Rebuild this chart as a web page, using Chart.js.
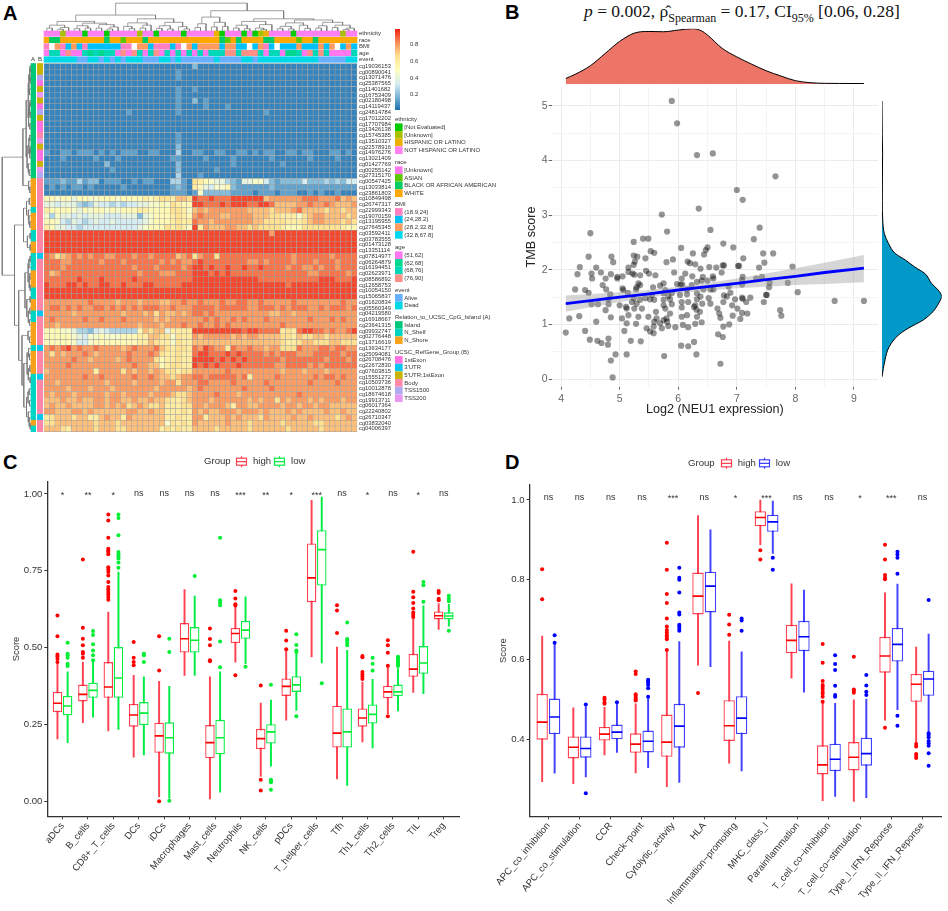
<!DOCTYPE html>
<html>
<head>
<meta charset="utf-8">
<style>
  html, body { margin:0; padding:0; background:#fff; }
  body { position:relative; width:948px; height:911px; overflow:hidden; font-family:'Liberation Sans', Arial, sans-serif; }
  canvas { position:absolute; }
  .tag { position:absolute; font-weight:700; font-size:20px; line-height:20px; color:#000; }
  #titleB { position:absolute; left:584px; top:1px; white-space:nowrap; font-family:'Liberation Serif', serif; font-size:17.5px; line-height:20px; color:#111; }
  #titleB sub { font-size:12px; line-height:0; }
</style>
<script src="https://cdn.jsdelivr.net/npm/chart.js@4/dist/chart.umd.min.js"></script>
</head>
<body>
<div class="tag" style="left:3px;top:3px;">A</div>
<div class="tag" style="left:505px;top:2px;">B</div>
<div class="tag" style="left:3px;top:452px;">C</div>
<div class="tag" style="left:505px;top:452px;">D</div>
<div id="titleB"><i>p</i> = 0.002, ρ̂<sub>Spearman</sub> = 0.17, CI<sub>95%</sub> [0.06, 0.28]</div>
<script>
// ---- panel A data ----
const rowNames = ['cg19036153','cg00890041','cg13071476','cg25387565','cg11401682','cg16753409','cg02180498','cg14119437','cg24814784','cg17012202','cg17707984','cg13426138','cg15745385','cg13510327','cg22578916','cg14976276','cg13021409','cg01427769','cg00255142','cg27315170','cg00547425','cg13033814','cg23861803','cg10849498','cg26747317','cg22999343','cg19070159','cg13195955','cg27645345','cg03592411','cg03783555','cg01473128','cg13351114','cg07814977','cg06264879','cg16194451','cg02623971','cg08586892','cg12658753','cg10054150','cg15065837','cg01620834','cg05560349','cg04219580','cg16918667','cg23641315','cg09932747','cg02776448','cg13716619','cg13634177','cg25094081','cg26708476','cg22672830','cg07603815','cg15551272','cg10503736','cg10012878','cg18674618','cg19913711','cg06017364','cg22240802','cg26710347','cg03832040','cg04006397'];
// one string per row, one hex digit per column (digit / 15 = beta value)
const heatRows = [
'111111111 111111111 111111111 3111111111 1111111111 1111111111',
'111111111 111111111 111111211 1111111111 1111111111 1111111111',
'111111111 111111111 111111211 1111111111 1111111111 1111111111',
'111111111 111111111 111111111 1111111111 1111111111 1111111111',
'111111111 111111111 111111211 2111111111 1111111111 1111111111',
'111111111 111111111 111111211 1111111111 1111111111 1111111111',
'111111111 111111111 111111211 3121111111 1111111111 1111111111',
'111111111 111111111 111111211 1121112111 1111111111 1111111111',
'111111111 111111211 111111211 1111111111 1112111111 1111111111',
'111111111 111111111 111111111 1111111111 1111111111 1111111111',
'111111111 111111111 111111111 1111111111 1111111111 1111111111',
'111111111 111111111 111111111 1111111111 1111111111 1111111111',
'111111111 111111111 111111211 1111111111 1111111111 1111111111',
'111111111 111111111 111111211 1111111111 1111111111 1111111111',
'111111111 111111111 111111311 1111111111 1111111111 1111111111',
'211221222 121212221 122111411 2211221122 1212211221 2211122121',
'111211111 211121111 111112211 1121111211 1111211111 1211112111',
'111111111 113111111 111111311 1111111211 1111112111 1111111111',
'111111111 111211111 111111311 1111211111 1111111111 1111111111',
'111111111 111111111 111111411 1211111111 1111111111 1111111111',
'222322423 312221121 221114421 a987664326 6775323333 5333434355',
'121212212 111112111 111112321 9865778322 2222322222 2222222222',
'111111111 111111111 111112221 2733333222 2122212221 1212112111',
'887886887 788878888 989aa9bba eddedddeee eeebcccccc dddcccdbcb',
'665666434 655454556 67787a988 eedddedeee ddeedbbbbc cdccdcbbbc',
'988887687 887878889 98888aa97 bcbccccccc bbbbabbbcd bbbbabbabb',
'747665656 665556663 678889a98 cdcccbbccc cbbbaa9997 abccbbbbab',
'887546545 655655555 678889a99 dccbcccccc cbbaaaa999 abccbbbaba',
'986655455 555555556 7888a9a97 e9cbbbccbb abaaaa9888 aaaaaaa988',
'eeeeeeeee eeeeeeeee eeeeeeeee eeeeeeeeee eeeeceeeee eeeeeeeeee',
'eeeeeeeee eeeeeeeee eeeeeeeee eeeeeeeeee eeeeeeeeee eeeeeeeeee',
'eeeeeeeee eeeeeeeee eeeeeeeee eeeeeeeeee eeeeeeeeee eeeeeeeeee',
'eeeeeeeee eeeeeeeee eeeeeeeee eeeeeeeeee eeeeeeeeee eeeeeeeeee',
'dcabcdcdc ddccdddcd dcddddbcd acddaddddd ddddddddcd dddddcdddd',
'dddccdddd dcdddcddd dddcdcdcc dedddddddd ccdcddddcd ddcdddcddd',
'dddcddddd dddddddcd ddcddddcd eededdedde ddeddddcdd ccdcddcddd',
'dbcdddddd ddddddddc dddcccddd eeedededdd dddddddddd dccdddddcd',
'ddddddedd deddddded ddddddddd eeeeeeeeee eedddddddd dddeeeddde',
'edddeeded deeddeddd eedddddee eeeeeeeeee eeeeeeedee eeeeeeeeee',
'eeeeeeeee eeeeeeeee eeeeeeeee eeeeeeeeee eeeeeeeeee eeeeeeeeee',
'eeeeeeeee eeeeeeeee eeeeeeeee eeeeeeeeee eeeeeeeeee eeeeeeeeee',
'ccccccccd ccccbcccb cccbbccdc cdcccdccdd ccdcccccdc cccccccdcc',
'cddcdcdcc ddcdcdcdc dddccdccc ddddcddddd ccdddcdcdd dccdcdddcd',
'cccccbccc cccccbccc bcacbbcbc ddcdcccccc ccccbbccbc cccccccccc',
'cdcccccdc cdcccdccc ccbcbcccc ccdcdccdcd cccdcccccc cdcccdcdcc',
'ccbcccccc ccccccccb cccbcccdc cdccdcdccc ccccccdccc cccccccccc',
'888776443 565444448 babb69999 eeeeeeeeed eedddd9a9d eeddcdccde',
'888887657 787778889 9bbaa7a99 cbcccccbcb ccbbbbaa9b aabbabbbbb',
'888887557 888888889 9ba997a99 bbbbbbbbbb bbbbbba99a bbaaabbaaa',
'cdcdecdcc dccccbcdc ccdba9aa9 dcedcc9dcc dccbccaaad cccddcddcc',
'cacbcccdc bcccccdcc cdca99a99 deedddeded dddcdcdddc ccdddddcdd',
'cccccdccb ccccbcdcc cca899a99 eeeededede ddddddcddd ddddcdddcd',
'ccccdcccc cccccccdc cbb89aa99 edededdded dddddccddd dcdcdddddd',
'bcccccccc 9ccccacbc cbcbaa9aa ccccccdccc ccccccbccc bcccbccccc',
'cccccccdc cdcccccdc cdcbbabcc ddcdddddcd 9ccccdcccc ccdcddcdcc',
'ccbcccccc ccbccccbc cccbccacc cddccccdcc cccdcccccc cdccccdccc',
'ccccbcccb cccbccccc ccbcccccb cdcccccccd ccccdccccc cccccccccc',
'cbcccbccc ccbccbccc cbcccbaab ccccdcccbc cccccccccd cccccccccc',
'bbbcbbcbb ccbccbbcb bcbba99ab cccbcccccc bcbccacbcc cbcbcccbcc',
'bcbbcbbbb ccbcbcabc baab999aa ccbcccb9cc bbccccbccb ccbccbbbbb',
'ccbbbccbc bbbbbbccb bcbb999a9 cbcbbcccbc ccbcbbbcbc bbbbcbbcbb',
'9abbbabb9 9bcbb9cbb bbbb99a99 cc9bbbcbcb bbacbbbbcb bcbbbbabcb',
'aabbbbbbb abbbabbbb bbbb7a9a9 cbbbbbcbbb abbbbbabbb bbaabbbbbb',
'bbba9bbbb abbbaabbb bbb9a9a99 bbbbabbbbb abbbbbbabb bbbabbbbbb'
];
const ethnicityTrack = 'pppkpppnpp pnpppppkpp nppppnpppp phnpppnpnk hppppnpppp ppppkpp';
const raceTrack      = 'wbbwwwwwww wbwwawwwbw wwwwwwwwww wwbawbwwww bbwwwwawwb wwwwwww';
const bmiTrack       = 'awcabcbabb bbbbaawccb aaabawcbcc ccbccbbwbc abwbbbcbbb cbcwbcb';
const ageTrack       = 'accadaacbc bccadadcac dacacacaca cccddcdddc accabbcadc dcaaaac';
const eventTrack     = 'ddddddaadd adadadddaa addadaaaaa adaaaaddad dddddddddd aaaaadd';
const relationTrack  = 'gggggggggggggggggggg ooooo c ooo cc oo ccc ooo cc oo cc oooo c oooo cccccccc o c';
const refGeneTrack   = 'llsfl tlfsl ffbtl fflts bbbbbbbbbbbbb u bbbbbbbbb u bbbbb u bbbb u bbbbbb u bb';
const ethnicityColors = { n:'#00cc00', k:'#a8c000', h:'#eeb000', p:'#ff80f0' };
const raceColors = { u:'#ff78f0', a:'#5cc800', b:'#00cc66', w:'#ffa800' };
const bmiColors = { a:'#ff80c0', b:'#00c0f8', c:'#ff9a60', d:'#00d8f0', w:'#ffffff' };
const ageColors = { a:'#ff78f0', b:'#00d890', c:'#00d8b8', d:'#ff9088' };
const eventColors = { a:'#66b0ff', d:'#00d8e8' };
const relationColors = { g:'#00c878', c:'#00d4c4', o:'#f8a21c' };
const refGeneColors = { f:'#ff70e0', u:'#00c8f0', l:'#c8b400', b:'#ff88a8', s:'#b0a8f0', t:'#e898f0' };
const trackNames = ['ethnicity','race','BMI','age','event'];
const legendTitles = ['ethnicity','race','BMI','age','event','Relation_to_UCSC_CpG_Island (A)','UCSC_RefGene_Group (B)'];
const legendLabels = [
  ['[Not Evaluated]','[Unknown]','HISPANIC OR LATINO','NOT HISPANIC OR LATINO'],
  ['[Unknown]','ASIAN','BLACK OR AFRICAN AMERICAN','WHITE'],
  ['(18.9,24]','(24,28.2]','(28.2,32.8]','(32.8,67.8]'],
  ['(51,62]','(62,68]','(68,76]','(76,90]'],
  ['Alive','Dead'],
  ['Island','N_Shelf','N_Shore'],
  ['1stExon',"3'UTR","5'UTR;1stExon",'Body','TSS1500','TSS200']
];
const legendColors = [
  ['#00cc00','#a8c000','#eeb000','#ff80f0'],
  ['#ff78f0','#5cc800','#00cc66','#ffa800'],
  ['#ff80c0','#00c0f8','#ff9a60','#00d8f0'],
  ['#ff78f0','#00d890','#00d8b8','#ff9088'],
  ['#66b0ff','#00d8e8'],
  ['#00c878','#00d4c4','#f8a21c'],
  ['#ff70e0','#00c8f0','#c8b400','#ff88a8','#b0a8f0','#e898f0']
];
const colorbarTicks = [0.2, 0.4, 0.6, 0.8];
// dendrograms: node = [height, left, right], 0 = leaf
const topTree = [.96,
  [.55,
    [.33, [.2,[.1,0,0],[.12,[.06,0,0],0]], [.27,[.18,[.08,0,0],[.1,0,0]],[.22,[.1,0,0],[.14,[.07,0,0],0]]]],
    [.42, [.28,[.16,0,[.08,0,0]],[.2,[.1,0,0],0]], [.3,[.18,[.09,0,0],[.07,0,0]],[.15,0,[.07,0,0]]]]],
  [.7,
    [.48,[.25,[.12,0,0],0],[.3,[.14,0,0],[.16,0,0]]],
    [.42,
      [.33,[.2,[.1,0,0],[.08,0,0]],[.22,[.1,0,[.05,0,0]],0]],
      [.38,[.28,[.16,[.08,0,0],[.07,0,0]],[.2,0,[.09,0,0]]],[.3,[.18,[.1,0,0],0],[.2,[.12,0,0],[.1,[.05,0,0],0]]]]]]];
const leftTree = [.96,
  [.27,
    [.16,[.1,[.07,[.04,[.03,0,0],[.03,0,0]],[.05,0,0]],[.08,[.05,[.03,0,0],[.03,0,0]],[.04,0,0]]],[.13,[.07,[.04,0,0],[.04,[.03,0,0],0]],[.09,0,[.06,0,0]]]],
    [.08,0,[.04,0,0]]],
  [.55,
    [.25,[.15,[.06,0,0],[.1,0,[.07,0,[.04,0,0]]]],[.12,[.03,0,0],[.03,0,0]]],
    [.41,
      [.2,[.1,[.07,[.03,0,0],0],[.06,[.04,0,0],[.03,0,0]]],[.14,[.03,0,0],[.09,[.04,0,0],[.05,0,0]]]],
      [.3,[.1,0,[.05,0,0]],[.24,[.13,[.08,0,[.05,0,0]],[.09,[.04,0,0],[.03,0,0]]],[.15,[.1,[.06,0,0],[.05,0,0]],[.09,0,[.06,0,[.03,0,0]]]]]]]]];

// ---- panel B data ----
const neu1 = [5.89,5.98,6.32,6.59,7.66,7.00,7.10,6.35,5.72,4.50,5.81,6.55,7.39,7.29,5.24,5.40,5.49,6.77,6.94,6.50,6.05,6.47,5.53,5.59,6.25,6.44,7.45,7.62,4.47,4.86,5.24,5.30,5.44,5.91,5.80,7.11,7.47,4.89,5.26,6.16,6.20,6.29,4.32,4.60,5.15,5.24,6.76,6.78,7.02,7.04,7.95,7.38,6.38,6.53,6.65,
  4.28,4.52,4.68,4.85,4.96,5.05,5.15,5.22,5.25,5.35,5.45,5.50,5.61,5.93,6.12,6.24,6.42,6.59,6.74,4.53,4.76,4.96,4.71,5.32,5.35,5.29,5.75,5.69,6.06,6.04,6.07,6.60,6.40,6.32,6.50,6.23,5.98,7.10,7.09,7.33,7.43,7.56,7.87,7.55,7.09,4.24,4.41,4.47,4.77,5.05,5.06,5.57,5.14,5.28,5.78,6.15,6.43,6.55,6.60,6.86,8.04,6.89,
  4.84,5.75,5.83,5.89,5.55,6.03,6.15,6.32,6.38,6.78,6.83,7.50,7.51,7.09,7.23,6.97,6.52,6.32,5.24,5.21,5.35,5.44,5.52,5.59,5.75,5.86,4.81,4.52,4.63,4.81,5.00,5.11,5.29,5.75,5.89,6.06,6.17,6.29,6.41,6.55,6.77,6.92,7.16,7.10,7.46,8.67,9.17,
  4.76,5.12,5.25,5.38,5.62,5.78,6.06,6.27,6.31,6.37,6.67,7.01,7.74,7.09,7.18,4.31,4.14,4.85,5.04,5.15,5.32,5.49,5.63,5.86,5.80,6.06,6.15,6.32,6.70,6.72,6.93,7.06,7.76,4.60,5.12,5.28,5.59,5.75,5.69,5.81,6.40,6.29,6.08,6.87,6.77,
  4.08,4.41,5.08,5.46,5.58,5.72,5.83,5.95,6.17,5.52,5.58,6.68,6.76,4.49,4.62,4.69,4.80,4.81,5.19,5.36,6.27,6.05,6.17,4.93,5.12,4.85,5.76,6.31,6.72,4.88];
const tmb = [5.09,4.68,4.10,4.13,3.71,3.46,3.28,3.12,3.01,2.67,2.70,2.73,2.77,2.56,2.51,2.57,2.57,2.48,2.41,2.41,2.40,2.36,2.34,2.31,2.30,2.28,2.30,2.30,2.24,2.24,2.26,2.24,2.21,2.19,2.14,2.21,2.13,2.14,2.15,2.15,2.12,2.10,2.05,2.04,2.04,2.09,2.08,2.08,2.07,2.07,2.06,2.04,2.02,2.05,2.04,
  1.92,1.93,1.95,1.92,1.87,1.88,1.96,1.93,1.91,1.90,1.98,1.93,1.90,1.95,1.93,1.88,1.87,1.88,1.95,1.84,1.84,1.84,1.72,1.75,1.72,1.68,1.75,1.71,1.84,1.73,1.73,1.84,1.80,1.78,1.80,1.72,1.74,1.87,1.81,1.84,1.87,1.76,1.76,1.68,1.73,1.64,1.63,1.58,1.64,1.66,1.63,1.68,1.58,1.64,1.63,1.64,1.64,1.64,1.64,1.69,1.59,1.58,
  1.55,1.57,1.52,1.57,1.54,1.54,1.55,1.57,1.51,1.53,1.51,1.54,1.54,1.49,1.49,1.46,1.48,1.46,1.48,1.41,1.45,1.48,1.46,1.45,1.45,1.46,1.46,1.37,1.37,1.37,1.35,1.32,1.38,1.35,1.37,1.41,1.41,1.35,1.38,1.38,1.41,1.35,1.41,1.47,1.41,1.43,1.43,
  1.26,1.29,1.29,1.29,1.23,1.29,1.31,1.32,1.27,1.23,1.29,1.29,1.26,1.21,1.20,1.15,1.11,1.13,1.11,1.17,1.14,1.14,1.11,1.20,1.11,1.14,1.17,1.14,1.20,1.12,1.16,1.10,1.16,1.05,1.02,1.01,1.05,1.08,1.02,1.05,1.04,1.01,0.99,1.00,0.96,
  0.85,0.88,0.88,0.93,0.96,0.93,0.97,0.95,0.95,0.87,0.84,0.82,0.77,0.72,0.70,0.66,0.63,0.74,0.70,0.69,0.68,0.61,0.60,0.45,0.45,0.34,0.42,0.45,0.28,0.03];
const fitX = [4.08,5,5.5,6,6.5,7,7.5,8,8.5,9.17];
const fitY = [1.38,1.50,1.56,1.63,1.69,1.75,1.82,1.88,1.95,2.03];
const fitUpper = [1.53,1.59,1.63,1.69,1.76,1.84,1.93,2.03,2.13,2.27];
const fitLower = [1.23,1.41,1.49,1.57,1.62,1.66,1.69,1.72,1.74,1.77];
const topDensX = [4.08,4.25,4.5,4.75,5,5.25,5.5,5.75,6,6.25,6.4,6.5,6.75,7,7.25,7.5,7.75,8,8.25,8.5,8.75,9.17];
const topDensY = [.10,.18,.33,.55,.77,.92,.95,.945,.975,1,.96,.885,.645,.49,.36,.24,.145,.06,.024,.012,.01,.008];
const sideDensY = [.04,.35,.59,.80,.93,1.08,1.23,1.45,1.51,1.63,1.75,1.93,2.05,2.18,2.30,2.48,2.66,2.91,3.27,3.88,4.13,4.49,5.09];
const sideDensW = [0,.05,.12,.27,.44,.69,.85,.98,1,.94,.83,.72,.55,.39,.22,.11,.04,.012,.005,.008,.01,.004,0];

// ---- panel C data ----
const immuneCells = ['aDCs','B_cells','CD8+_T_cells','DCs','iDCs','Macrophages','Mast_cells','Neutrophils','NK_cells','pDCs','T_helper_cells','Tfh','Th1_cells','Th2_cells','TIL','Treg'];
const immuneSig = ['*','**','*','ns','ns','ns','ns','***','**','*','***','ns','*','ns','*','ns'];
const cHighQ1  = [.290,.325,.337,.243,.158,.484,.140,.515,.170,.343,.648,.175,.243,.335,.405,.592];
const cHighMed = [.319,.348,.372,.281,.213,.529,.191,.546,.204,.374,.727,.222,.271,.356,.430,.604];
const cHighQ3  = [.356,.380,.453,.317,.256,.580,.248,.564,.236,.400,.839,.311,.302,.376,.480,.618];
const cHighLo  = [.203,.256,.229,.144,.014,.410,.008,.453,.081,.264,.470,.073,.193,.285,.354,.559];
const cHighHi  = [.448,.453,.616,.410,.390,.689,.405,.640,.320,.495,.979,.502,.388,.437,.594,.643];
const cHighOut = [[.605,.537,.478,.472,.464,.453],[.787,.565,.529,.508,.486,.48,.467],[.933,.914,.858,.822,.816,.811,.804,.762,.754,.746,.735,.714,.697,.689,.681,.674,.665,.656],[.518,.467,.453,.443],[0,.537,.426],[],[.562,.528,.508,.459,.456],[.684,.66,.641,.637,.41],[.07,.035,.377],[.555,.523,.495],[],[.638,.621,.548],[.473,.469,.421,.413,.405,.398],[.277,.524,.508,.483,.441],[.812,.682,.664,.645,.627,.614,.606,.6],[.684,.678,.659,.654]];
const cLowQ1  = [.280,.337,.337,.248,.155,.484,.153,.529,.188,.356,.702,.175,.253,.342,.415,.592];
const cLowMed = [.310,.361,.401,.287,.207,.524,.207,.557,.226,.379,.819,.226,.283,.356,.450,.603];
const cLowQ3  = [.343,.386,.502,.323,.257,.567,.265,.587,.251,.407,.882,.302,.315,.380,.505,.615];
const cLowLo  = [.191,.274,.234,.151,.010,.410,.030,.448,.114,.296,.450,.052,.174,.294,.350,.570];
const cLowHi  = [.421,.453,.746,.405,.374,.668,.421,.665,.329,.480,.990,.491,.397,.432,.636,.641];
const cLowOut = [[.516,.48,.475,.467,.448,.44],[.554,.541,.511,.491,.475,.459],[.933,.922,.866,.811,.804,.797,.79,.777,.76],[.48,.475,.453],[.002,.529,.486],[.733],[.858,.654,.646,.638,.52,.436],[.438],[.07,.066,.062,.038,.379],[.544,.509,.491,.486,.277],[.384],[.582,.528,.523,.516,.508],[.467,.448,.426],[.47,.465,.46,.455,.45,.445,.44],[.714,.703,.649],[.669,.659,.651,.555]];

// ---- panel D data ----
const pathways = ['APC_co_inhibition','APC_co_stimulation','CCR','Check−point','Cytolytic_activity','HLA','Inflammation−promoting','MHC_class_I','Parainflammation','T_cell_co−inhibition','T_cell_co−stimulation','Type_I_IFN_Reponse','Type_II_IFN_Reponse'];
const pathwaySig = ['ns','ns','ns','ns','***','ns','*','***','ns','ns','*','***','ns'];
const dHighQ1  = [.399,.352,.397,.366,.356,.713,.396,.934,.616,.312,.322,.567,.494];
const dHighMed = [.443,.380,.413,.388,.393,.759,.434,.956,.648,.336,.355,.609,.538];
const dHighQ3  = [.514,.407,.431,.415,.462,.818,.498,.972,.687,.385,.393,.657,.564];
const dHighLo  = [.294,.289,.361,.316,.281,.586,.340,.888,.553,.246,.244,.448,.390];
const dHighHi  = [.659,.479,.480,.489,.620,.961,.646,1.0,.790,.490,.499,.767,.631];
const dHighOut = [[.826,.751],[],[.504,.5,.492,.489],[.513,.509,.504,.5,.497,.57,.564],[.893,.825,.764,.742,.703,.683,.674,.668,.661,.655,.651,.624],[.516],[.712,.688,.662],[.874,.851],[],[.494,.507,.514,.519,.526,.532,.536,.639,.592,.546],[.521,.517,.607,.525],[.888,.851,.812,.805,.801,.429],[.388,.382,.363,.358,.353]];
const dLowQ1  = [.413,.354,.400,.367,.379,.718,.413,.920,.621,.320,.334,.595,.509];
const dLowMed = [.456,.377,.418,.395,.433,.784,.453,.945,.657,.350,.364,.638,.551];
const dLowQ3  = [.502,.407,.437,.422,.489,.820,.508,.963,.697,.389,.404,.679,.572];
const dLowLo  = [.315,.306,.367,.329,.292,.582,.321,.866,.518,.257,.254,.474,.419];
const dLowHi  = [.642,.482,.490,.503,.645,.925,.619,.997,.774,.490,.501,.789,.664];
const dLowOut = [[.661,.642],[.487,.265],[.493],[.507,.528,.536,.542,.546,.549],[.83,.805,.8,.768,.718,.713,.687,.683,.677,.672],[],[.703,.698,.672],[.855,.825],[],[.507,.511,.534,.611,.589,.574],[.535,.519,.511,.561],[.87,.863,.855,.815,.459,.434],[.749,.415,.411,.405,.396,.39,.384,.365,.334]];

const sansFont = "'Liberation Sans', Arial, sans-serif";
const textCol = '#333';
const heatStops = [[0,'#0f66ac'],[.17,'#74b2d6'],[.33,'#d4ecf2'],[.5,'#ffffbf'],[.67,'#fee090'],[.83,'#fc8d59'],[1,'#f01a10']];

function hexRgb(h) { return [1,3,5].map(i => parseInt(h.substr(i,2),16)); }
function heatColor(v) {
  for (let i = 1; i < heatStops.length; i++) {
    if (v <= heatStops[i][0]) {
      const a = heatStops[i-1], b = heatStops[i], t = (v-a[0])/(b[0]-a[0]);
      const ca = hexRgb(a[1]), cb = hexRgb(b[1]);
      return 'rgb(' + ca.map((c,k) => Math.round(c+(cb[k]-c)*t)).join(',') + ')';
    }
  }
  return heatStops[heatStops.length-1][1];
}
function clean(s) { return s.replace(/\s/g,''); }

function addCanvas(left, top, width, height) {
  const c = document.createElement('canvas');
  c.width = width; c.height = height;
  c.style.left = left+'px'; c.style.top = top+'px';
  c.style.width = width+'px'; c.style.height = height+'px';
  document.body.appendChild(c);
  return c;
}
const baseOpts = { responsive:false, animation:false, devicePixelRatio:1, plugins:{ legend:{display:false}, tooltip:{enabled:false} } };

// walk a dendrogram and give back elbow points in (position, height)
function treePoints(tree, swap) {
  const pts = []; let next = 0;
  const add = (at, h) => pts.push(swap ? {x:h, y:at} : {x:at, y:h});
  function walk(n) {
    if (n === 0) return {at: (next++) + .5, h: 0};
    const a = walk(n[1]), b = walk(n[2]);
    add(a.at,a.h); add(a.at,n[0]); add(b.at,n[0]); add(b.at,b.h);
    pts.push({x:NaN, y:NaN});
    return {at: (a.at+b.at)/2, h: n[0]};
  }
  walk(tree);
  return pts;
}

// ---- panel A ----
function drawHeat() {
  const W = 500, H = 445, u = 313/57, v = 368.2/64, X0 = 44, Y0 = 63.5;
  const rowOf = py => (py-Y0)/v, colOf = px => (px-X0)/u;
  const cells = [], cellColors = [];
  heatRows.forEach((s,r) => clean(s).split('').forEach((ch,c) => {
    cells.push({x:c+.5, y:[r,r+1]});
    cellColors.push(heatColor(parseInt(ch,16)/15));
  }));
  const trackY = [[31,36.3],[37.3,42.7],[43.7,49.3],[50.3,55.7],[56.7,62.3]];
  const tracks = [[ethnicityTrack,ethnicityColors],[raceTrack,raceColors],[bmiTrack,bmiColors],[ageTrack,ageColors],[eventTrack,eventColors]];
  // cells overlap a little so no white seam shows between the fractional edges
  const datasets = [{ data:cells, backgroundColor:cellColors, borderColor:'rgb(158,158,158)', borderWidth:.5, borderSkipped:false, barThickness:u, grouped:false, inflateAmount:.3 }];
  tracks.forEach((t,i) => {
    const keys = clean(t[0]).split('');
    datasets.push({ data:keys.map((k,c) => ({x:c+.5, y:[rowOf(trackY[i][0]),rowOf(trackY[i][1])]})), backgroundColor:keys.map(k => t[1][k]), borderWidth:0, barThickness:u, grouped:false });
  });
  [[relationTrack,relationColors,33.35,4.7],[refGeneTrack,refGeneColors,40,5.4]].forEach(t => {
    const keys = clean(t[0]).split('');
    datasets.push({ data:keys.map((k,r) => ({x:colOf(t[2]), y:[r,r+1]})), backgroundColor:keys.map(k => t[1][k]), borderWidth:0, barThickness:t[3], grouped:false });
  });
  const titleY = [119.3,162.3,204,247.3,290,317,352];
  const textPlugin = { id:'heatText', afterDraw(chart) {
    const ctx = chart.ctx, y = chart.scales.y;
    ctx.save();
    ctx.fillStyle = textCol; ctx.textBaseline = 'middle'; ctx.textAlign = 'left';
    ctx.font = '5.8px '+sansFont;
    rowNames.forEach((n,r) => ctx.fillText(n, 359, y.getPixelForValue(r+.5)));
    ctx.font = '6px '+sansFont;
    trackNames.forEach((n,i) => ctx.fillText(n, 359, (trackY[i][0]+trackY[i][1])/2));
    ctx.textAlign = 'center';
    ctx.fillText('A', 32.9, 59); ctx.fillText('B', 39.9, 59);
    ctx.textAlign = 'left';
    legendTitles.forEach((t,g) => {
      ctx.fillStyle = textCol;
      ctx.fillText(t, 395, titleY[g]);
      legendLabels[g].forEach((lab,i) => {
        const cy = titleY[g] + 7.9 + i*7.67;
        ctx.fillStyle = legendColors[g][i];
        ctx.fillRect(395, cy-3.8, 7.6, 7.6);
        ctx.fillStyle = textCol;
        ctx.fillText(lab, 404.3, cy);
      });
    });
    ctx.restore();
  } };
  new Chart(addCanvas(0,0,W,H), {
    type:'bar',
    data:{ datasets },
    options:{ ...baseOpts, layout:{padding:0},
      scales:{
        x:{ type:'linear', display:false, offset:false, min:-X0/u, max:(W-X0)/u },
        y:{ type:'linear', display:false, reverse:true, min:-Y0/v, max:(H-Y0)/v }
      } },
    plugins:[textPlugin]
  });

  // colour key
  const levels = [], levelColors = [];
  for (let i = 0; i < 50; i++) { levels.push({x:.5, y:[i/50,(i+1)/50]}); levelColors.push(heatColor((i+.5)/50)); }
  new Chart(addCanvas(395,27,30,85), {
    type:'bar',
    data:{ datasets:[{ data:levels, backgroundColor:levelColors, borderWidth:0, barThickness:5.2, grouped:false }] },
    options:{ ...baseOpts, layout:{padding:{top:2,bottom:2}},
      scales:{
        x:{ type:'linear', display:false, offset:false, min:0, max:1 },
        y:{ position:'right', min:.016, max:.99,
            afterBuildTicks:s => { s.ticks = colorbarTicks.map(value => ({value})); },
            afterFit:s => { s.width = 25; s.paddingTop = 0; s.paddingBottom = 0; },
            grid:{display:false}, border:{display:false},
            ticks:{ font:{size:6, family:sansFont}, color:textCol, padding:2 } }
      } }
  });

  const dendroLine = { borderColor:'#777', borderWidth:.7, pointRadius:0, showLine:true };
  new Chart(addCanvas(44,2,313,29), {
    type:'scatter',
    data:{ datasets:[{ ...dendroLine, data:treePoints(topTree,false) }] },
    options:{ ...baseOpts, layout:{padding:0}, scales:{ x:{display:false,min:0,max:57}, y:{display:false,min:0,max:1} } }
  });
  new Chart(addCanvas(1,63,30,369), {
    type:'scatter',
    data:{ datasets:[{ ...dendroLine, data:treePoints(leftTree,true) }] },
    options:{ ...baseOpts, layout:{padding:0}, scales:{ x:{display:false,min:0,max:1,reverse:true}, y:{display:false,min:0,max:64,reverse:true} } }
  });
}

// ---- panel B ----
function drawScatter() {
  const xMin = 3.84, xMax = 9.41, yMin = -.14, yMax = 5.34;
  const tickFont = { size:10.5, family:sansFont };
  new Chart(addCanvas(520,80,365,340), {
    type:'scatter',
    data:{ datasets:[
      { data:neu1.map((x,i) => ({x, y:tmb[i]})), backgroundColor:'rgba(0,0,0,.42)', borderWidth:0, pointRadius:3.1, order:4 },
      { data:fitX.map((x,i) => ({x, y:fitUpper[i]})), showLine:true, pointRadius:0, borderWidth:0, fill:'+1', backgroundColor:'rgba(153,153,153,.4)', order:3 },
      { data:fitX.map((x,i) => ({x, y:fitLower[i]})), showLine:true, pointRadius:0, borderWidth:0, order:3 },
      { data:fitX.map((x,i) => ({x, y:fitY[i]})), showLine:true, pointRadius:0, borderColor:'#0000ff', borderWidth:2.8, order:1 }
    ] },
    options:{ ...baseOpts, layout:{padding:{top:7.3,right:7}},
      scales:{
        x:{ min:xMin, max:xMax,
            afterBuildTicks:s => { s.ticks = [4,4.5,5,5.5,6,6.5,7,7.5,8,8.5,9].map(value => ({value})); },
            afterFit:s => { s.height = 33.3; s.paddingLeft = 0; s.paddingRight = 0; },
            border:{display:false},
            grid:{ color:c => c.tick && c.tick.value % 1 ? '#f4f4f4' : '#ebebeb', tickColor:c => c.tick && c.tick.value % 1 ? 'transparent' : '#666', tickLength:3, lineWidth:1 },
            ticks:{ autoSkip:false, maxRotation:0, font:tickFont, color:'#666', padding:3, callback:v => v % 1 ? '' : String(v) },
            title:{ display:true, text:'Log2 (NEU1 expression)', font:{size:12.6,family:sansFont}, color:'#222', padding:{top:0,bottom:3} } },
        y:{ min:yMin, max:yMax,
            afterBuildTicks:s => { s.ticks = [0,.5,1,1.5,2,2.5,3,3.5,4,4.5,5].map(value => ({value})); },
            afterFit:s => { s.width = 31.7; s.paddingTop = 0; s.paddingBottom = 0; },
            border:{display:false},
            grid:{ color:c => c.tick && c.tick.value % 1 ? '#f4f4f4' : '#ebebeb', tickColor:c => c.tick && c.tick.value % 1 ? 'transparent' : '#666', tickLength:3, lineWidth:1 },
            ticks:{ autoSkip:false, font:tickFont, color:'#666', padding:1, callback:v => v % 1 ? '' : String(v) },
            title:{ display:true, text:'TMB score', font:{size:12.6,family:sansFont}, color:'#222', padding:{top:4,bottom:0} } }
      } }
  });
  new Chart(addCanvas(520,24,365,62), {
    type:'line',
    data:{ datasets:[{ data:topDensX.map((x,i) => ({x, y:topDensY[i]})), fill:'origin', backgroundColor:'#ec7568', borderColor:'#000', borderWidth:1, pointRadius:0, cubicInterpolationMode:'monotone' }] },
    options:{ ...baseOpts, layout:{padding:{left:31.7,right:7,top:4.7,bottom:2}},
      scales:{ x:{type:'linear',display:false,min:xMin,max:xMax}, y:{display:false,min:0,max:1} } }
  });
  new Chart(addCanvas(880,80,66,340), {
    type:'line',
    data:{ datasets:[{ data:sideDensY.map((y,i) => ({x:sideDensW[i], y})), fill:'origin', backgroundColor:'#0099c8', borderColor:'#000', borderWidth:1, pointRadius:0, cubicInterpolationMode:'monotone' }] },
    options:{ ...baseOpts, indexAxis:'y', layout:{padding:{left:2,right:4.3,top:7.3,bottom:33.3}},
      scales:{ x:{type:'linear',display:false,min:0,max:1}, y:{type:'linear',display:false,min:yMin,max:yMax} } }
  });
}

// ---- panels C, D: box plots built from floating bars and scatter marks ----
function boxDatasets(cfg, stats, dodge) {
  const at = i => i + 1 + dodge;
  const pick = a => a.map((v,i) => ({x:at(i), y:v}));
  const outliers = [];
  stats.out.forEach((list,i) => list.forEach(y => outliers.push({x:at(i), y})));
  return [
    { data:stats.lo.map((v,i) => ({x:at(i), y:[v,stats.hi[i]]})), backgroundColor:cfg.soft, borderWidth:0, barThickness:1.3, grouped:false, order:6 },
    { data:stats.q1.map((v,i) => ({x:at(i), y:[v,stats.q3[i]]})), backgroundColor:'#fff', borderColor:cfg.soft, borderWidth:1.35, borderSkipped:false, barThickness:cfg.boxW, grouped:false, inflateAmount:0, order:5 },
    { type:'scatter', data:pick(stats.med), pointStyle:'line', pointRadius:cfg.boxW/2-.4, pointBorderWidth:1.6, pointBorderColor:cfg.color, order:4 },
    { type:'scatter', data:outliers, pointRadius:2, pointBackgroundColor:cfg.color, pointBorderWidth:0, order:3 }
  ];
}

function drawBoxPanel(p) {
  const tickFont = { size:9.6, family:sansFont };
  const labelPlugin = { id:'boxText', afterDraw(chart) {
    const ctx = chart.ctx, x = chart.scales.x, y = chart.scales.y;
    ctx.save();
    ctx.fillStyle = textCol; ctx.textAlign = 'center'; ctx.textBaseline = 'middle';
    ctx.font = '9px '+sansFont;
    p.sig.forEach((s,i) => ctx.fillText(s, x.getPixelForValue(i+1), y.getPixelForValue(p.sigAt) + (s === 'ns' ? 0 : 1.5)));
    ctx.textAlign = 'left'; ctx.font = '9.6px '+sansFont;
    ctx.fillText('Group', p.key.group, p.key.y);
    [[p.key.a,'high',p.key.at,p.high],[p.key.b,'low',p.key.bt,p.low]].forEach(k => {
      ctx.strokeStyle = k[3].soft; ctx.lineWidth = 1.2;
      ctx.strokeRect(k[0]+.5, p.key.y-3.5, 10, 7);
      ctx.beginPath();
      ctx.moveTo(k[0]+5.5, p.key.y-5.5); ctx.lineTo(k[0]+5.5, p.key.y-3.5);
      ctx.moveTo(k[0]+5.5, p.key.y+3.5); ctx.lineTo(k[0]+5.5, p.key.y+5.5);
      ctx.moveTo(k[0]+.5, p.key.y); ctx.lineTo(k[0]+10.5, p.key.y);
      ctx.stroke();
      ctx.fillStyle = textCol;
      ctx.fillText(k[1], k[2], p.key.y);
    });
    ctx.restore();
  } };
  const axisGrid = { drawOnChartArea:false, tickLength:3, tickColor:'#333', tickWidth:1 };
  const axisBorder = { display:true, color:'#333', width:1.3 };
  new Chart(addCanvas(p.left,450,p.width,461), {
    type:'bar',
    data:{ datasets:[...boxDatasets(p.high,p.highStats,-.2), ...boxDatasets(p.low,p.lowStats,.2)] },
    options:{ ...baseOpts, layout:{padding:{top:p.top,right:p.right}},
      scales:{
        x:{ type:'linear', offset:false, min:.4, max:p.cats.length+.6,
            afterBuildTicks:s => { s.ticks = p.cats.map((c,i) => ({value:i+1})); },
            afterFit:s => { s.height = 94.7; s.paddingLeft = 0; s.paddingRight = 0; },
            grid:{...axisGrid, offset:false}, border:axisBorder,
            ticks:{ autoSkip:false, minRotation:50, maxRotation:50, padding:1, font:tickFont, color:textCol, callback:v => p.cats[v-1] } },
        y:{ min:p.yMin, max:p.yMax, beginAtZero:false,
            afterBuildTicks:s => { s.ticks = p.yTicks.map(value => ({value})); },
            afterFit:s => { s.width = p.axisLeft; s.paddingTop = 0; s.paddingBottom = 0; },
            grid:axisGrid, border:axisBorder,
            ticks:{ font:tickFont, color:textCol, padding:2, callback:v => v.toFixed(p.decimals) },
            title:{ display:true, text:'Score', font:{size:9.4,family:sansFont}, color:textCol, padding:{top:p.titlePad,bottom:0} } }
      } },
    plugins:[labelPlugin]
  });
}

drawHeat();
drawScatter();
drawBoxPanel({
  left:0, width:470, top:31.7, right:11, axisLeft:47.3, titlePad:11, yMin:-.0488, yMax:1.04, yTicks:[0,.25,.5,.75,1], decimals:2, sigAt:1,
  cats:immuneCells, sig:immuneSig,
  key:{ y:11.7, group:204, a:236, at:253, b:274, bt:291 },
  high:{ color:'#ff0000', soft:'rgba(255,20,40,.8)', boxW:9.5 },
  low:{ color:'#00ee33', soft:'#00ee44', boxW:9.5 },
  highStats:{ q1:cHighQ1, med:cHighMed, q3:cHighQ3, lo:cHighLo, hi:cHighHi, out:cHighOut },
  lowStats:{ q1:cLowQ1, med:cLowMed, q3:cLowQ3, lo:cLowLo, hi:cLowHi, out:cLowOut }
});
drawBoxPanel({
  left:480, width:468, top:35, right:2, axisLeft:49.7, titlePad:18, yMin:.207, yMax:1.0375, yTicks:[.4,.6,.8,1], decimals:1, sigAt:1.0067,
  cats:pathways, sig:pathwaySig,
  key:{ y:13.3, group:208, a:241, at:257.7, b:279, bt:295.7 },
  high:{ color:'#ff0000', soft:'rgba(255,20,40,.8)', boxW:11.4 },
  low:{ color:'#0000ff', soft:'rgba(20,20,255,.8)', boxW:11.4 },
  highStats:{ q1:dHighQ1, med:dHighMed, q3:dHighQ3, lo:dHighLo, hi:dHighHi, out:dHighOut },
  lowStats:{ q1:dLowQ1, med:dLowMed, q3:dLowQ3, lo:dLowLo, hi:dLowHi, out:dLowOut }
});
</script>
</body>
</html>
